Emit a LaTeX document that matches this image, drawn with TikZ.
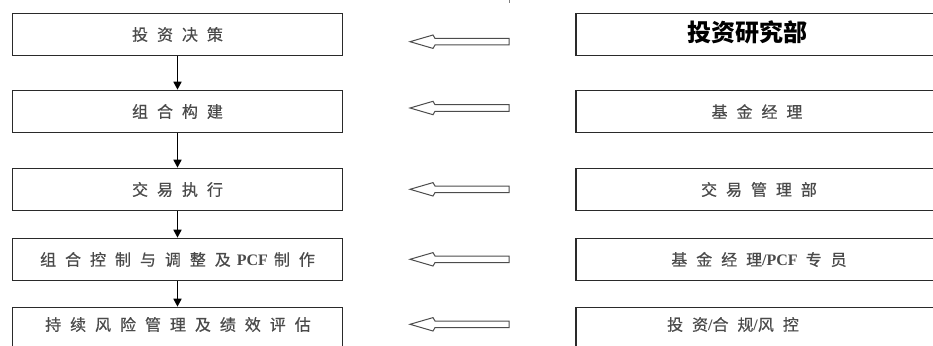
\documentclass[tikz,border=0pt]{standalone}
\usepackage{fontspec}
\usetikzlibrary{arrows.meta}
\newfontfamily\cjk[LetterSpace=56,FakeBold=0.6]{Noto Sans CJK SC}
\newfontfamily\cjkplain{Noto Sans CJK SC}
\newfontfamily\latserif{Liberation Serif}
\definecolor{boxline}{HTML}{2A2A2A}
\definecolor{txtgray}{HTML}{4A4A4A}
\begin{document}
\begin{tikzpicture}[x=1pt,y=-1pt,
  lbox/.style={draw=boxline, line width=1.6pt, minimum width=330pt, minimum height=42pt, inner sep=0pt, text=txtgray, font=\cjk\fontsize{16}{16}\selectfont},
  rbox/.style={draw=boxline, line width=1.6pt, minimum width=380pt, minimum height=42pt, inner sep=0pt},
  rtext/.style={inner sep=0pt, text=txtgray, font=\cjk\fontsize{16}{16}\selectfont},
  toptext/.style={inner sep=0pt, text=black, font=\cjkplain\bfseries\fontsize{24}{24}\selectfont},
  varrow/.style={draw=black, line width=1.6pt, -{Triangle[width=8pt,length=8pt]}},
  harrow/.style={draw=black!70, line width=1pt, fill=white, line join=miter},
  tick/.style={draw=black!50, line width=0.8pt}
]
\useasboundingbox (0,0) rectangle (933,345);
\clip (0,0) rectangle (933,345);

% left column
\node[lbox] (l1) at (177.5,34.5) {投资决策};
\node[lbox] (l2) at (177.5,111.5) {组合构建};
\node[lbox] (l3) at (177.5,189.5) {交易执行};
\node[lbox] (l4) at (177.5,259.5) {组合控制与调整及\hspace{6pt}{\latserif\bfseries PCF}\hspace{6pt}制作};
\node[lbox] (l5) at (177.5,328.5) {};
\node[rtext] (l5t) at (178,324.5) {持续风险管理及绩效评估};

% right column
\node[rbox] (r1) at (766,34.5) {};
\node[rbox] (r2) at (766,111.5) {};
\node[rbox] (r3) at (766,189.5) {};
\node[rbox] (r4) at (766,259.5) {};
\node[rbox] (r5) at (766,328.5) {};
\node[toptext] (t1) at (747,32) {投资研究部};
\node[rtext] (t2) at (757,111.5) {基金经理};
\node[rtext] (t3) at (759,189.5) {交易管理部};
\node[rtext] (t4) at (759,259.5) {基金经理{\latserif\bfseries /PCF}\hspace{8pt}专员};
\node[rtext] (t5) at (733,324.5) {投资{\latserif\bfseries /}合规{\latserif\bfseries /}风控};

% vertical flow arrows
\draw[varrow] (l1.south) -- (l2.north);
\draw[varrow] (l2.south) -- (l3.north);
\draw[varrow] (l3.south) -- (l4.north);
\draw[varrow] (l4.south) -- (l5.north);

% hollow block arrows
\coordinate (a1) at (410,41.7);
\coordinate (a2) at (410,108);
\coordinate (a3) at (410,189.3);
\coordinate (a4) at (410,259.3);
\coordinate (a5) at (410,324.3);
\foreach \a in {a1,a2,a3,a4,a5}{
  \draw[harrow] (\a) -- ++(23,-6.7) -- ++(2,3.4) -- ++(74,0) -- ++(0,6.6) -- ++(-74,0) -- ++(-2,3.4) -- cycle;
}

% small tick at top
\coordinate (k0) at (509,0);
\coordinate (k1) at (509,3.5);
\draw[tick] (k0) -- (k1);
\end{tikzpicture}
\end{document}
